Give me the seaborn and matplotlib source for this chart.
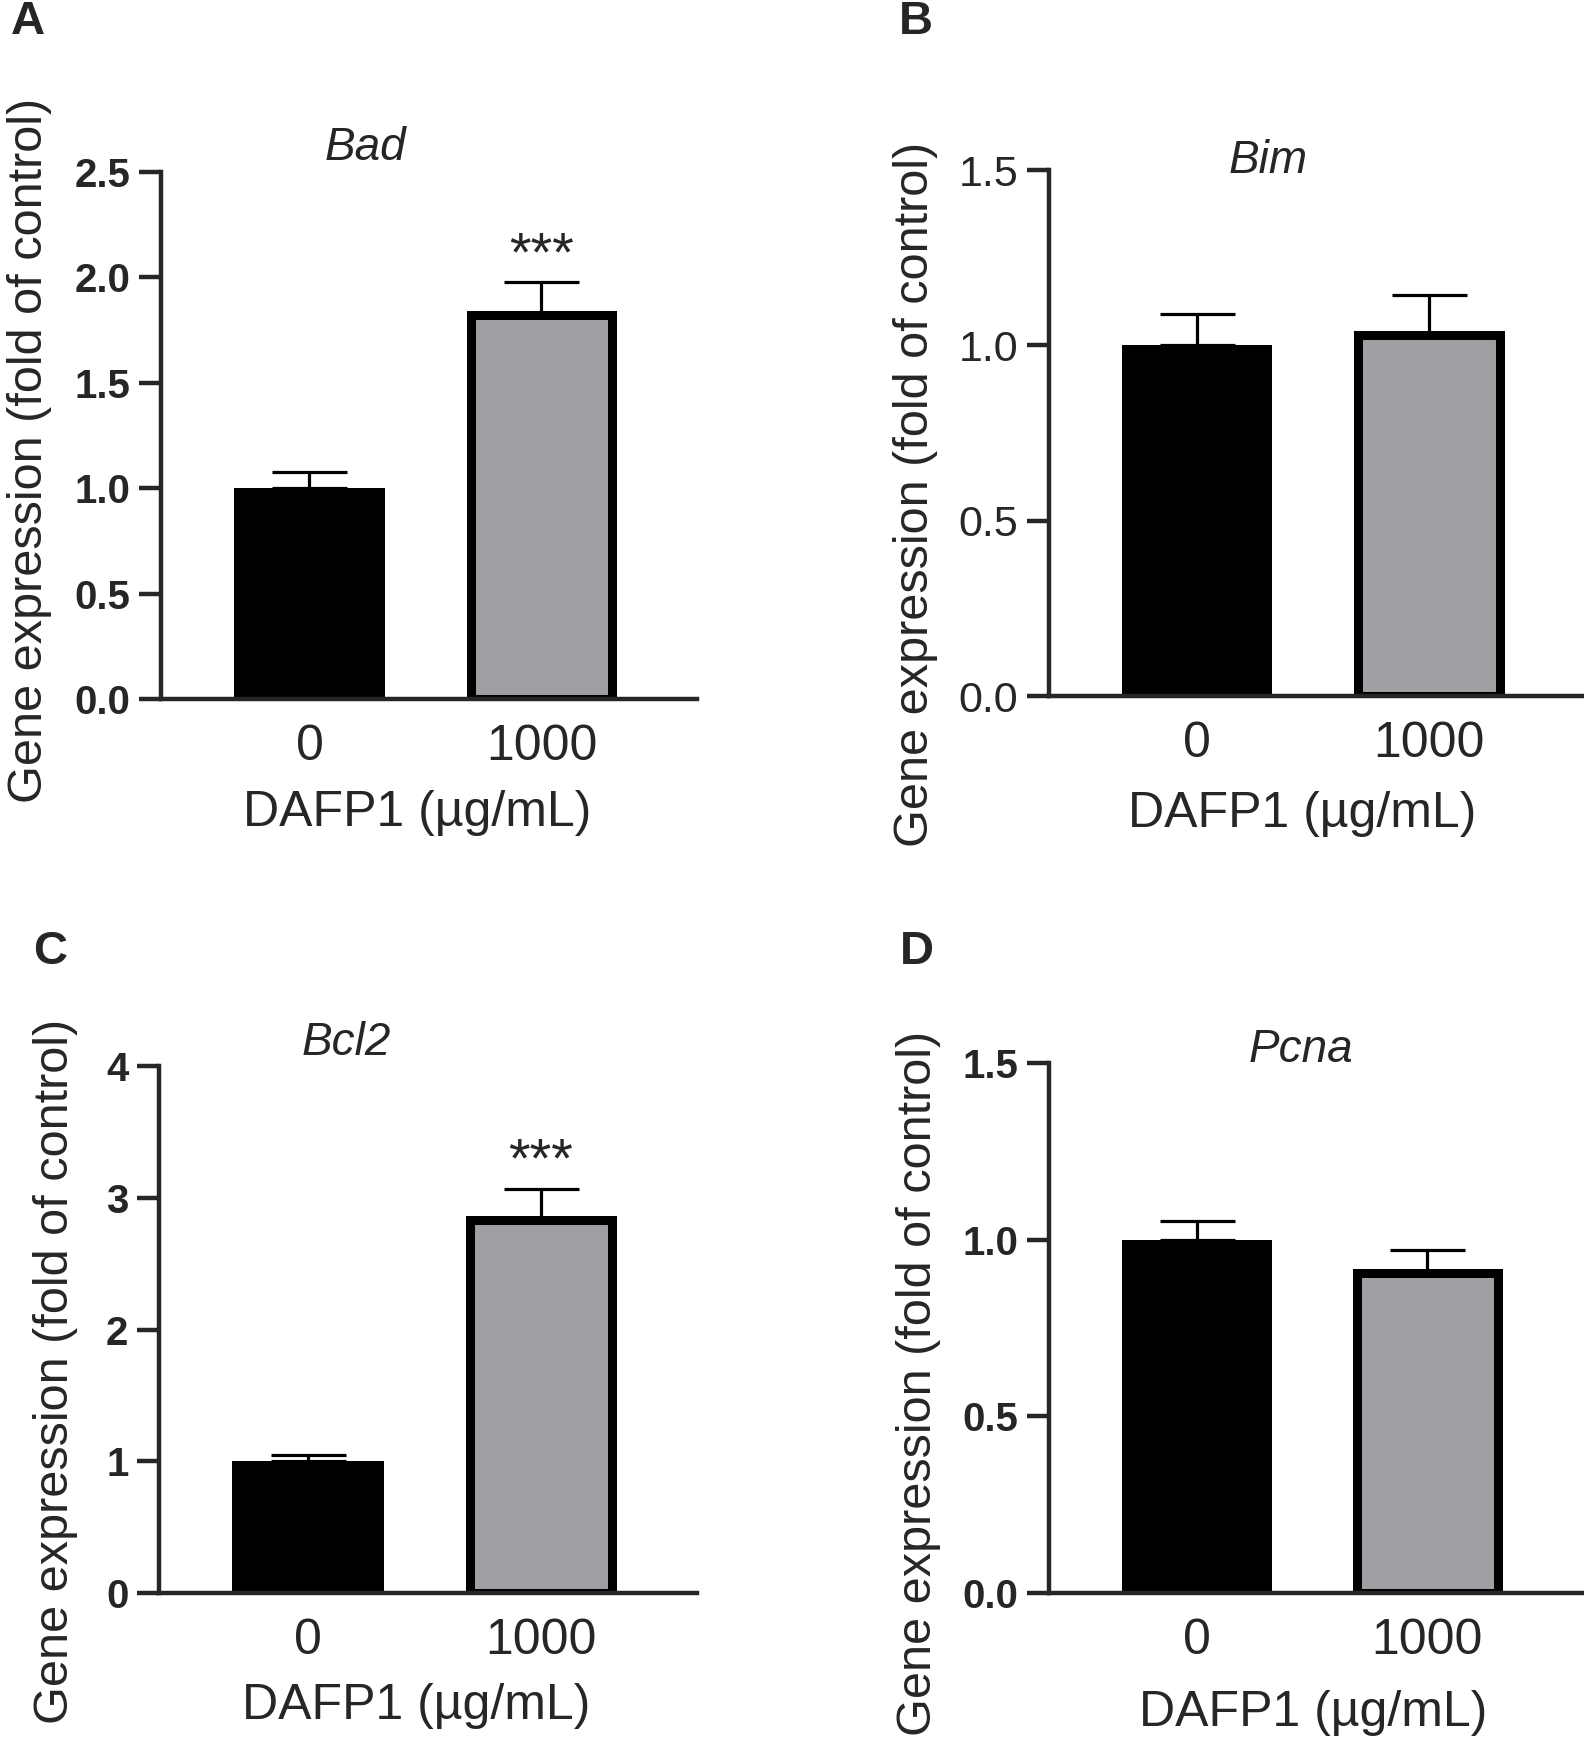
import matplotlib
matplotlib.use("Agg")
import matplotlib.pyplot as plt
import seaborn as sns

# data (mean, upper SEM)
doses = ["0", "1000"]
genes = ["Bad", "Bim", "Bcl2", "Pcna"]
letters = ["A", "B", "C", "D"]
bad_mean = [1.0, 1.82]
bad_err = [0.075, 0.16]
bim_mean = [1.0, 1.03]
bim_err = [0.09, 0.115]
bcl2_mean = [1.0, 2.83]
bcl2_err = [0.045, 0.24]
pcna_mean = [1.0, 0.905]
pcna_err = [0.052, 0.065]
ylims = [2.5, 1.5, 4, 1.5]
yticks = [[0, 0.5, 1.0, 1.5, 2.0, 2.5], [0, 0.5, 1.0, 1.5], [0, 1, 2, 3, 4], [0, 0.5, 1.0, 1.5]]
ytick_labels = [["0.0", "0.5", "1.0", "1.5", "2.0", "2.5"], ["0.0", "0.5", "1.0", "1.5"],
                ["0", "1", "2", "3", "4"], ["0.0", "0.5", "1.0", "1.5"]]
stars = ["***", "", "***", ""]

means = [bad_mean, bim_mean, bcl2_mean, pcna_mean]
errs = [bad_err, bim_err, bcl2_err, pcna_err]

sns.set_style("ticks")
plt.rcParams["font.family"] = ["Liberation Sans", "DejaVu Sans"]

black = "#000000"
gray = "#a0a0a4"

fig = plt.figure(figsize=(15.84, 17.41), dpi=100)
rects = [[0.1016, 0.5985, 0.3384, 0.3027],
         [0.6622, 0.6002, 0.3378, 0.3021],
         [0.1004, 0.0850, 0.3396, 0.3027],
         [0.6622, 0.0850, 0.3365, 0.3044]]
title_pos = [(0.382, 1.046), (0.409, 1.017), (0.348, 1.044), (0.473, 1.025)]
ylabel_pos = [(-0.246, 0.472), (-0.25, 0.384), (-0.193, 0.421), (-0.245, 0.396)]
xlabel_pos = [(0.478, -0.216), (0.473, -0.224), (0.478, -0.214), (0.495, -0.226)]
star_y = [2.10, 0, 3.27, 0]
letter_pos = [(28, 22), (916, 22), (50, 952), (917, 952)]

for i in range(4):
    ax = fig.add_axes(rects[i])
    sns.barplot(x=doses, y=means[i], hue=doses, palette=[black, gray], legend=False,
                width=0.65, errorbar=None, ax=ax, saturation=1)
    # gray bar gets a thick black border drawn inside its outline
    ppd = 233.0
    lw = 6.5
    inset = lw * 100 / 72 / ppd
    for p in ax.patches:
        if abs(p.get_x() + p.get_width() / 2 - 1) < 0.01:
            p.set_edgecolor(black)
            p.set_linewidth(lw)
            p.set_x(p.get_x() + inset / 2)
            p.set_width(p.get_width() - inset)
        else:
            p.set_linewidth(0)
    ax.errorbar([0, 1], means[i], yerr=[[0, 0], errs[i]], fmt="none", ecolor=black,
                elinewidth=2.3, capsize=27, capthick=2.3, zorder=5)
    ax.set_xlim(-0.64, 1.67)
    ax.set_ylim(0, ylims[i])
    ax.set_yticks(yticks[i])
    if i == 1:
        ax.set_yticklabels(ytick_labels[i], fontsize=31,
                           family=["Liberation Sans Narrow", "Liberation Sans"])
    else:
        ax.set_yticklabels(ytick_labels[i], fontsize=29, fontweight="bold")
    ax.tick_params(axis="y", length=16, width=3.2, pad=6)
    ax.tick_params(axis="x", length=0, pad=18, labelsize=36)
    sns.despine(ax=ax)
    for s in ["left", "bottom"]:
        ax.spines[s].set_linewidth(3.2)
    ax.spines["left"].set_bounds(0, ylims[i])
    ax.set_ylabel("Gene expression (fold of control)", fontsize=35, va="center")
    ax.yaxis.set_label_coords(*ylabel_pos[i])
    ax.set_xlabel("DAFP1 (µg/mL)", fontsize=36, va="center")
    ax.xaxis.set_label_coords(*xlabel_pos[i])
    ax.text(*title_pos[i], genes[i], transform=ax.transAxes, ha="center", va="center",
            fontsize=33, fontstyle="italic")
    if stars[i]:
        ax.text(1, star_y[i], stars[i], ha="center", va="center", fontsize=40)
    fig.text(letter_pos[i][0] / 1584, 1 - letter_pos[i][1] / 1741, letters[i],
             ha="center", va="center", fontsize=34, fontweight="bold")

fig.savefig("out.png", dpi=100)
